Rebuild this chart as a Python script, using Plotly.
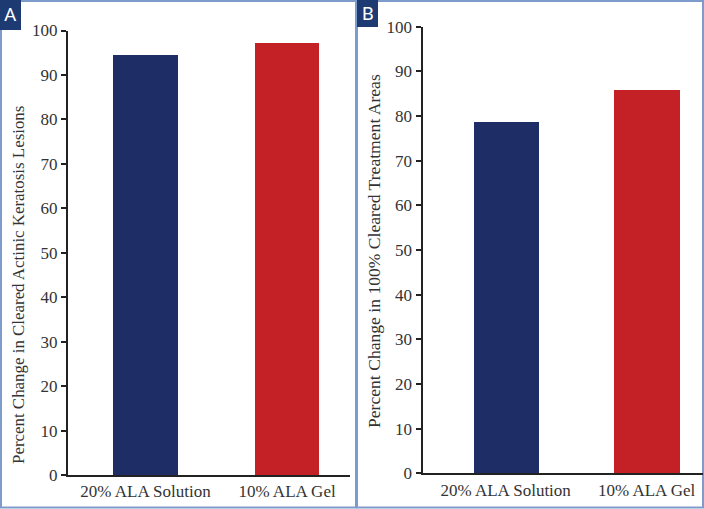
import plotly.graph_objects as go

# data
categories = ["20% ALA Solution", "10% ALA Gel"]
lesions_cleared = [94.7, 97.2]      # panel A
areas_cleared = [78.7, 86.0]        # panel B
bar_colors = ["#1f2d66", "#c42127"]
y_ticks = list(range(0, 101, 10))
title_a = "Percent Change in Cleared Actinic Keratosis Lesions"
title_b = "Percent Change in 100% Cleared Treatment Areas"

W, H = 704, 509

def px(x):
    return x / W

def py(y):
    return 1 - y / H

fig = go.Figure()
fig.add_trace(go.Bar(x=[0, 1], y=lesions_cleared, width=0.455,
                     marker=dict(color=bar_colors, line=dict(width=0)),
                     xaxis="x", yaxis="y", showlegend=False))
fig.add_trace(go.Bar(x=[0, 1], y=areas_cleared, width=0.463,
                     marker=dict(color=bar_colors, line=dict(width=0)),
                     xaxis="x2", yaxis="y2", showlegend=False))

serif = "Liberation Serif, Times New Roman, serif"
tick_font = dict(family=serif, size=17, color="#333333")

xax = dict(tickmode="array", tickvals=[0, 1], ticktext=categories, showgrid=False,
           zeroline=False, showline=True, linecolor="#222222", linewidth=2,
           ticks="", tickfont=tick_font, fixedrange=True, automargin=False)
yax = dict(range=[0, 100], tickmode="array", tickvals=y_ticks, showgrid=False,
           zeroline=False, showline=True, linecolor="#222222", linewidth=2,
           ticks="outside", ticklen=5, tickwidth=2, tickcolor="#222222",
           tickfont=tick_font, fixedrange=True, automargin=False)

fig.update_layout(
    width=W, height=H,
    margin=dict(l=0, r=0, t=0, b=0, autoexpand=False),
    plot_bgcolor="white", paper_bgcolor="white",
    bargap=0,
    xaxis=dict(xax, domain=[px(68), px(350)], range=[-0.548, 1.445], anchor="y"),
    yaxis=dict(yax, domain=[py(475), py(30.5)], anchor="x"),
    xaxis2=dict(xax, domain=[px(422.5), px(703)], range=[-0.59, 1.40], anchor="y2"),
    yaxis2=dict(yax, domain=[py(473.3), py(26.7)], anchor="x2"),
)

# y-axis titles (placed as in the original, A sits lower than centre)
for text, x, y, size in [(title_a, 18, 285, 16.9), (title_b, 374, 251, 17.6)]:
    fig.add_annotation(x=px(x), y=py(y), xref="paper", yref="paper", text=text,
                       textangle=-90, showarrow=False, xanchor="center", yanchor="middle",
                       font=dict(family=serif, size=size, color="#333333"))

# panel frames
frame_color = "#7d9ccc"
fig.add_shape(type="rect", xref="paper", yref="paper",
              x0=px(1), x1=px(356), y0=py(507.5), y1=py(1),
              line=dict(color=frame_color, width=2), layer="below")
fig.add_shape(type="rect", xref="paper", yref="paper",
              x0=px(357), x1=px(703), y0=py(507.5), y1=py(1),
              line=dict(color=frame_color, width=2), layer="below")

# panel letters
label_fill = "#1d3b72"
for letter, x0, x1, y1 in [("A", 0, 21, 30), ("B", 357, 378, 27)]:
    fig.add_shape(type="rect", xref="paper", yref="paper",
                  x0=px(x0), x1=px(x1), y0=py(y1), y1=py(0),
                  line=dict(width=0), fillcolor=label_fill)
    fig.add_annotation(x=px((x0 + x1) / 2), y=py(y1 / 2), xref="paper", yref="paper",
                       text=letter, showarrow=False, xanchor="center", yanchor="middle",
                       font=dict(family="Liberation Sans Narrow, Roboto, sans-serif",
                                 size=19, color="white"))

fig.write_html("out.html", config={"displayModeBar": False},
               post_script="document.body.style.margin='0';document.body.style.overflow='hidden';")
